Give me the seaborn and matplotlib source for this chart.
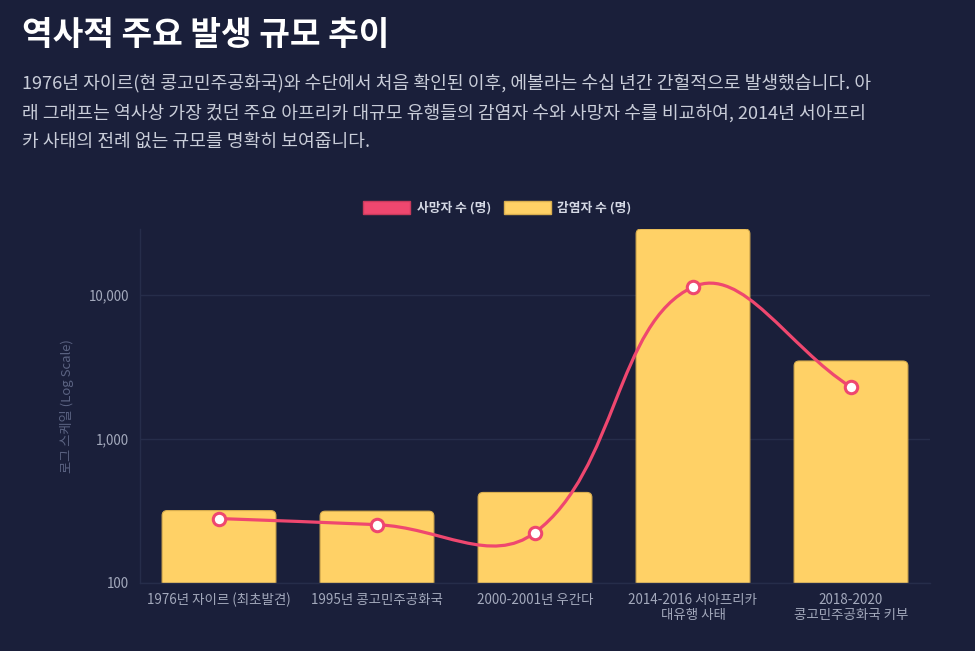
import numpy as np
import pandas as pd
import matplotlib
matplotlib.use("Agg")
import matplotlib.pyplot as plt
import seaborn as sns
from matplotlib.path import Path
from matplotlib.patches import PathPatch, Patch, FancyBboxPatch
from matplotlib.ticker import FixedLocator, FuncFormatter, NullLocator

# -----------------------------------------------------------
# data

outbreaks = [
    "1976년 자이르 (최초발견)",
    "1995년 콩고민주공화국",
    "2000-2001년 우간다",
    "2014-2016 서아프리카\n대유행 사태",
    "2018-2020\n콩고민주공화국 키부",
]
cases = [318, 315, 425, 28600, 3470]
deaths = [280, 254, 224, 11325, 2287]

title = "역사적 주요 발생 규모 추이"
subtitle = ("1976년 자이르(현 콩고민주공화국)와 수단에서 처음 확인된 이후, 에볼라는 수십 년간 간헐적으로 발생했습니다. 아\n"
            "래 그래프는 역사상 가장 컸던 주요 아프리카 대규모 유행들의 감염자 수와 사망자 수를 비교하여, 2014년 서아프리\n"
            "카 사태의 전례 없는 규모를 명확히 보여줍니다.")

# -----------------------------------------------------------
# style

BG = "#1a1f3a"
YELLOW = "#ffd166"
RED = "#ef476f"
GRID = "#262d4a"

sns.set_theme(style="dark")
plt.rcParams["font.family"] = ["Noto Sans CJK KR", "DejaVu Sans"]

df = pd.DataFrame({"outbreak": outbreaks, "cases": cases, "deaths": deaths})

fig = plt.figure(figsize=(9.75, 6.51), dpi=100, facecolor=BG)
ax = fig.add_axes([140 / 975, 1 - 583 / 651, 790 / 975, 354 / 651])
ax.set_facecolor(BG)
ax.set_yscale("log")

sns.barplot(data=df, x="outbreak", y="cases", color=YELLOW, saturation=1,
            width=0.72, ax=ax, zorder=2)
ax.set_ylim(100, max(cases))
ax.set_xlim(-0.5, len(outbreaks) - 0.5)

# rounded tops: redraw each bar as a rounded box in pixel space
fig.canvas.draw()
ax_bottom = ax.transAxes.transform((0, 0))[1]
for bar in list(ax.patches):
    x0 = bar.get_x()
    x1 = x0 + bar.get_width()
    top = bar.get_height()
    (px0, py1) = ax.transData.transform((x0, top))
    (px1, _) = ax.transData.transform((x1, top))
    rb = FancyBboxPatch((px0, ax_bottom - 10), px1 - px0, py1 - ax_bottom + 10,
                        boxstyle="round,pad=0,rounding_size=5",
                        transform=None, facecolor=YELLOW, edgecolor="#d9ae4f",
                        linewidth=0.8, zorder=2)
    rb.set_clip_path(ax.patch)
    ax.add_artist(rb)
    bar.set_visible(False)

# smooth deaths line (chart.js style spline, tension 0.4) in pixel-like space
sx, sy = 158.0, 145.0
px = np.arange(len(deaths)) * sx
py = np.log10(deaths) * sy
t = 0.4
cp_prev, cp_next = [], []
for i in range(len(deaths)):
    a = max(i - 1, 0)
    b = min(i + 1, len(deaths) - 1)
    d01 = np.hypot(px[i] - px[a], py[i] - py[a])
    d12 = np.hypot(px[b] - px[i], py[b] - py[i])
    tot = d01 + d12 if d01 + d12 > 0 else 1
    fa = t * d01 / tot
    fb = t * d12 / tot
    cp_prev.append((px[i] - fa * (px[b] - px[a]), py[i] - fa * (py[b] - py[a])))
    cp_next.append((px[i] + fb * (px[b] - px[a]), py[i] + fb * (py[b] - py[a])))

def to_data(p):
    return (p[0] / sx, 10 ** (p[1] / sy))

verts = [to_data((px[0], py[0]))]
codes = [Path.MOVETO]
for i in range(1, len(deaths)):
    verts += [to_data(cp_next[i - 1]), to_data(cp_prev[i]), to_data((px[i], py[i]))]
    codes += [Path.CURVE4] * 3
ax.add_patch(PathPatch(Path(verts, codes), fill=False, edgecolor=RED,
                       linewidth=2.3, zorder=3, capstyle="round"))

sns.scatterplot(x=np.arange(len(deaths)), y=deaths, s=80, color="white",
                edgecolor=RED, linewidth=2.2, zorder=4, ax=ax, legend=False)

# axes
ax.yaxis.set_major_locator(FixedLocator([100, 1000, 10000]))
ax.yaxis.set_minor_locator(NullLocator())
ax.yaxis.set_major_formatter(FuncFormatter(lambda v, p: f"{int(v):,}"))
ax.grid(axis="y", color=GRID, linewidth=1, zorder=0)
ax.grid(axis="x", visible=False)
ax.tick_params(axis="both", length=0, colors="#a3a9bc", labelsize=9.7)
ax.tick_params(axis="y", pad=8)
ax.tick_params(axis="x", pad=7)
for lbl in ax.get_xticklabels():
    lbl.set_linespacing(1.15)
for side in ["top", "right"]:
    ax.spines[side].set_visible(False)
for side in ["left", "bottom"]:
    ax.spines[side].set_color(GRID)
    ax.spines[side].set_linewidth(1)
ax.set_xlabel("")
ax.set_ylabel("로그 스케일 (Log Scale)", color="#5b6382", fontsize=9.5, labelpad=10)

# legend
handles = [Patch(facecolor=RED, edgecolor="#c93a5c", label="사망자 수 (명)"),
           Patch(facecolor=YELLOW, edgecolor="#d9ae4f", label="감염자 수 (명)")]
leg = fig.legend(handles=handles, loc="center", bbox_to_anchor=(0.51, 1 - 208 / 651),
                 ncol=2, frameon=False, handlelength=3.7, handleheight=1.1,
                 columnspacing=1.0, handletextpad=0.5,
                 prop={"size": 9.2, "weight": "bold"})
for txt in leg.get_texts():
    txt.set_color("#d5d9e5")

# title block
fig.text(22 / 975, 1 - 36 / 651, title, color="white", fontsize=24,
         fontweight="bold", va="center", ha="left")
fig.text(22 / 975, 1 - 74 / 651, subtitle, color="#c9cdd9", fontsize=13.1,
         va="top", ha="left", linespacing=1.78)

fig.savefig("out.png", dpi=100, facecolor=BG)
